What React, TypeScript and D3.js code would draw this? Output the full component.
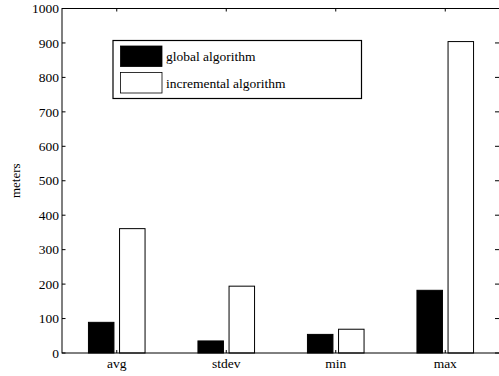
import React from 'react'
import * as d3 from 'd3'

const categories = ['avg', 'stdev', 'min', 'max']
const series = ['global algorithm', 'incremental algorithm']
const globalValues = [89, 35, 54, 182]
const incrementalValues = [361, 194, 69, 904]
const yTicks = [0, 100, 200, 300, 400, 500, 600, 700, 800, 900, 1000]

const width = 499
const height = 376
const margin = { top: 8.5, right: -1, bottom: 23, left: 62 }
const font = 'Liberation Serif, Times New Roman, Times, serif'
const fills = ['#000', '#fff']

const App = () => {
  const x = d3
    .scaleBand()
    .domain(categories)
    .range([margin.left, width - margin.right])
    .padding(0)
  const xSub = d3
    .scaleBand()
    .domain(series)
    .range([-28.3, 28.3])
    .paddingInner(0.18)
    .paddingOuter(0)
  const y = d3
    .scaleLinear()
    .domain([0, 1000])
    .range([height - margin.bottom, margin.top])

  const values = [globalValues, incrementalValues]
  const cx = (c: string) => (x(c) as number) + x.bandwidth() / 2
  const x0 = margin.left
  const x1 = width - margin.right
  const y0 = y(0)
  const y1 = y(1000)

  return (
    <svg
      width={width}
      height={height}
      style={{ position: 'absolute', left: 0, top: 0, background: '#fff', fontFamily: font }}
    >
      {/* bars */}
      {series.map((s, si) =>
        categories.map((c, ci) => (
          <rect
            key={s + c}
            x={cx(c) + (xSub(s) as number)}
            y={y(values[si][ci])}
            width={xSub.bandwidth()}
            height={y0 - y(values[si][ci])}
            fill={fills[si]}
            stroke="#000"
            strokeWidth={1}
          />
        ))
      )}

      {/* frame */}
      <rect x={x0} y={y1} width={x1 - x0} height={y0 - y1} fill="none" stroke="#000" strokeWidth={1} />

      {/* y ticks + labels */}
      {yTicks.map(t => (
        <g key={t}>
          <line x1={x0} x2={x0 + 3.5} y1={y(t)} y2={y(t)} stroke="#000" />
          <line x1={x1 - 5} x2={x1} y1={y(t)} y2={y(t)} stroke="#000" />
          <text x={x0 - 3} y={y(t)} dy="0.35em" textAnchor="end" fontSize={13.5}>
            {t}
          </text>
        </g>
      ))}

      {/* x ticks + labels */}
      {categories.map(c => (
        <g key={c}>
          <line x1={cx(c)} x2={cx(c)} y1={y0} y2={y0 - 3} stroke="#000" />
          <line x1={cx(c)} x2={cx(c)} y1={y1} y2={y1 + 3} stroke="#000" />
          <text x={cx(c)} y={y0 + 15} textAnchor="middle" fontSize={13.5}>
            {c}
          </text>
        </g>
      ))}

      <text
        transform={`translate(20, ${(y0 + y1) / 2}) rotate(-90)`}
        textAnchor="middle"
        fontSize={13}
      >
        meters
      </text>

      {/* legend */}
      <g transform="translate(113, 40.5)">
        <rect x={0} y={0} width={248.5} height={58} fill="#fff" stroke="#000" strokeWidth={1.2} />
        {series.map((s, i) => (
          <g key={s} transform={`translate(0, ${i * 26.5})`}>
            <rect x={7.5} y={5.5} width={41.5} height={20.5} fill={fills[i]} stroke="#000" strokeWidth={0.8} />
            <text x={53} y={15.8} dy="0.35em" fontSize={13.5}>
              {s}
            </text>
          </g>
        ))}
      </g>
    </svg>
  )
}

export default App
